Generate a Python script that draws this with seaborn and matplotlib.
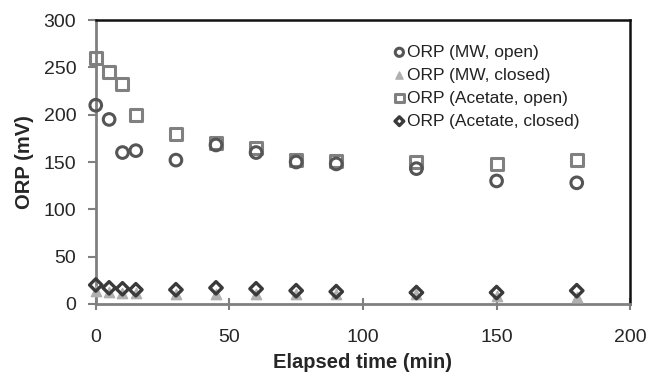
import matplotlib
matplotlib.use('Agg')
import matplotlib.pyplot as plt
import seaborn as sns
import pandas as pd

# Data
time_min = [0, 5, 10, 15, 30, 45, 60, 75, 90, 120, 150, 180]
mw_open = [210, 195, 160, 162, 152, 168, 160, 150, 148, 143, 130, 128]
mw_closed = [14, 13, 12, 12, 11, 10, 10, 10, 10, 10, 8, 7]
acetate_open = [260, 245, 232, 200, 180, 170, 165, 152, 151, 150, 148, 152]
acetate_closed = [20, 17, 16, 15, 15, 17, 16, 14, 13, 12, 12, 14]

series_names = ['ORP (MW, open)', 'ORP (MW, closed)',
                'ORP (Acetate, open)', 'ORP (Acetate, closed)']
series_values = [mw_open, mw_closed, acetate_open, acetate_closed]

rows = []
for name, vals in zip(series_names, series_values):
    for t, v in zip(time_min, vals):
        rows.append({'time': t, 'orp': v, 'series': name})
df = pd.DataFrame(rows)

sns.set_style('white')
plt.rcParams['font.family'] = ['Liberation Sans', 'DejaVu Sans']

fig = plt.figure(figsize=(6.47, 3.72), dpi=100)
ax = fig.add_axes([0.148, 0.183, 0.826, 0.763])

styles = {
    'ORP (MW, open)': dict(marker='o', s=70, facecolor='none', edgecolor='#555555', linewidth=2.2),
    'ORP (MW, closed)': dict(marker='^', s=55, facecolor='#b0b0b0', edgecolor='#b0b0b0', linewidth=1),
    'ORP (Acetate, open)': dict(marker='s', s=75, facecolor='none', edgecolor='#808080', linewidth=2.2),
    'ORP (Acetate, closed)': dict(marker='D', s=40, facecolor='none', edgecolor='#3a3a3a', linewidth=2.4),
}
draw_order = ['ORP (MW, closed)', 'ORP (Acetate, open)', 'ORP (MW, open)', 'ORP (Acetate, closed)']
for name in draw_order:
    sub = df[df['series'] == name]
    st = styles[name]
    sns.scatterplot(data=sub, x='time', y='orp', ax=ax, marker=st['marker'], s=st['s'],
                    facecolor=st['facecolor'], edgecolor=st['edgecolor'],
                    linewidth=st['linewidth'], label=name, clip_on=False, zorder=3)

ax.set_xlim(0, 200)
ax.set_ylim(0, 300)
ax.set_xticks([0, 50, 100, 150, 200])
ax.set_yticks([0, 50, 100, 150, 200, 250, 300])

for side in ['left', 'bottom']:
    ax.spines[side].set_color('#808080')
    ax.spines[side].set_linewidth(2)
for side in ['top', 'right']:
    ax.spines[side].set_color('#111111')
    ax.spines[side].set_linewidth(1.8)

ax.tick_params(axis='y', direction='out', length=6, width=1.5, color='#808080',
               labelsize=14, pad=8)
ax.tick_params(axis='x', direction='inout', length=8, width=1.5, color='#808080',
               labelsize=14, pad=14)
ax.tick_params(left=True, bottom=True)

ax.set_xlabel('Elapsed time (min)', fontsize=14.5, fontweight='bold', labelpad=5)
ax.set_ylabel('ORP (mV)', fontsize=14.5, fontweight='bold', labelpad=7)

handles, labels = ax.get_legend_handles_labels()
order = [labels.index(n) for n in series_names]
leg = ax.legend([handles[i] for i in order], [labels[i] for i in order],
                loc='upper right', bbox_to_anchor=(0.925, 0.95), frameon=False,
                fontsize=12.5, handletextpad=0.0, labelspacing=0.45,
                markerscale=0.7, handlelength=0.9, borderaxespad=0.2)
for txt in leg.get_texts():
    txt.set_color('#222222')

fig.savefig('out.png', dpi=100)
